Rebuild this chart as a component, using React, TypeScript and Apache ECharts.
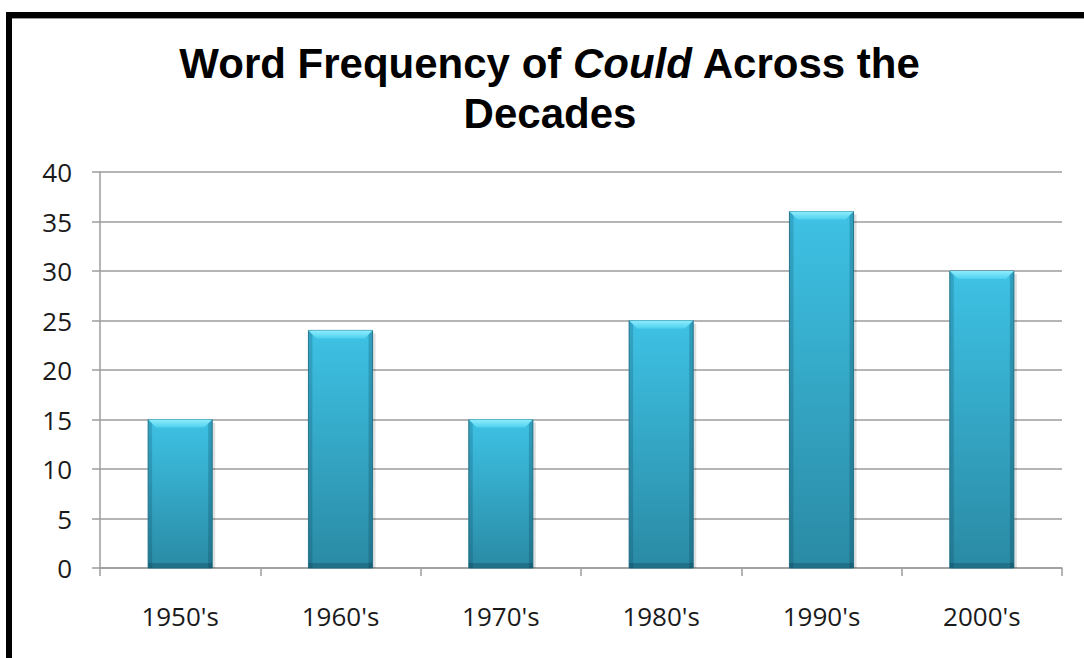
import React, { useEffect, useRef } from "react";
import * as echarts from "echarts";

const categories = ["1950's", "1960's", "1970's", "1980's", "1990's", "2000's"];
const frequencies = [15, 24, 15, 25, 36, 30];
const yTicks = { min: 0, max: 40, interval: 5 };

export default function App() {
  const ref = useRef<HTMLDivElement>(null);

  useEffect(() => {
    if (!ref.current) return;
    const chart = echarts.init(ref.current, null, { renderer: "svg" });

    const labelFont = "'Open Sans', 'DejaVu Sans', sans-serif";

    const renderItem = (params: any, api: any) => {
      const idx = api.value(0);
      const val = api.value(1);
      const top = api.coord([idx, val]);
      const base = api.coord([idx, 0]);
      const band = api.size([1, 0])[0];
      const w = band * 0.4;
      const x = top[0] - w / 2;
      const y = top[1];
      const h = base[1] - top[1];
      const bev = 8;
      return {
        type: "group",
        children: [
          {
            type: "rect",
            shape: { x: x + 3, y: y + 3, width: w, height: h - 3 },
            style: { fill: "rgba(0,0,0,0.12)" },
          },
          {
            type: "rect",
            shape: { x, y, width: w, height: h },
            style: {
              fill: new echarts.graphic.LinearGradient(0, 0, 0, 1, [
                { offset: 0, color: "#3ec2e5" },
                { offset: 1, color: "#2a8aa4" },
              ]),
              stroke: "#2b7f95",
              lineWidth: 1,
            },
          },
          {
            type: "rect",
            shape: { x, y, width: 4, height: h },
            style: { fill: "rgba(0,40,60,0.18)" },
          },
          {
            type: "rect",
            shape: { x: x + w - 4, y, width: 4, height: h },
            style: { fill: "rgba(0,40,60,0.22)" },
          },
          {
            type: "rect",
            shape: { x, y: y + h - 5, width: w, height: 5 },
            style: { fill: "rgba(0,40,60,0.25)" },
          },
          {
            type: "polygon",
            shape: {
              points: [
                [x, y],
                [x + w, y],
                [x + w - bev, y + bev],
                [x + bev, y + bev],
              ],
            },
            style: {
              fill: new echarts.graphic.LinearGradient(0, 0, 0, 1, [
                { offset: 0, color: "#8deeff" },
                { offset: 1, color: "#4fd0ee" },
              ]),
            },
          },
        ],
      };
    };

    chart.setOption({
      animation: false,
      backgroundColor: "#ffffff",
      grid: { left: 100, right: 22, top: 172, bottom: 90, containLabel: false },
      graphic: [
        { type: "rect", shape: { x: 6, y: 12, width: 1078, height: 6 }, style: { fill: "#000" } },
        { type: "rect", shape: { x: 6, y: 18, width: 1078, height: 1 }, style: { fill: "#999" } },
        { type: "rect", shape: { x: 6, y: 12, width: 6, height: 646 }, style: { fill: "#000" } },
        {
          type: "text",
          x: 550,
          y: 38,
          style: {
            text: "{b|Word Frequency of }{i|Could}{b| Across the}\n{b|Decades}",
            align: "center",
            verticalAlign: "top",
            rich: {
              b: {
                fontFamily: "'Liberation Sans', Arial, sans-serif",
                fontWeight: "bold",
                fontSize: 42,
                lineHeight: 50,
                fill: "#000",
              },
              i: {
                fontFamily: "'Liberation Sans', Arial, sans-serif",
                fontWeight: "bold",
                fontStyle: "italic",
                fontSize: 42,
                lineHeight: 50,
                fill: "#000",
              },
            },
          },
        },
      ],
      xAxis: {
        type: "category",
        data: categories,
        boundaryGap: true,
        axisLine: { show: true, lineStyle: { color: "#9c9c9c", width: 1.5 } },
        axisTick: { show: true, length: 8, lineStyle: { color: "#9c9c9c", width: 1.5 } },
        axisLabel: { fontFamily: labelFont, fontSize: 26, color: "#1a1a1a", margin: 35 },
      },
      yAxis: {
        type: "value",
        min: yTicks.min,
        max: yTicks.max,
        interval: yTicks.interval,
        axisLine: { show: true, lineStyle: { color: "#9c9c9c", width: 1.5 } },
        axisTick: { show: true, length: 8, lineStyle: { color: "#9c9c9c", width: 1.5 } },
        splitLine: { show: true, lineStyle: { color: "#9c9c9c", width: 1.5 } },
        axisLabel: { fontFamily: labelFont, fontSize: 26, color: "#1a1a1a", margin: 28 },
      },
      series: [
        {
          type: "custom",
          renderItem,
          encode: { x: 0, y: 1 },
          data: frequencies.map((v, i) => [i, v]),
        },
      ],
    });

    return () => chart.dispose();
  }, []);

  return (
    <div
      ref={ref}
      style={{ position: "absolute", left: 0, top: 0, width: 1084, height: 658 }}
    />
  );
}
